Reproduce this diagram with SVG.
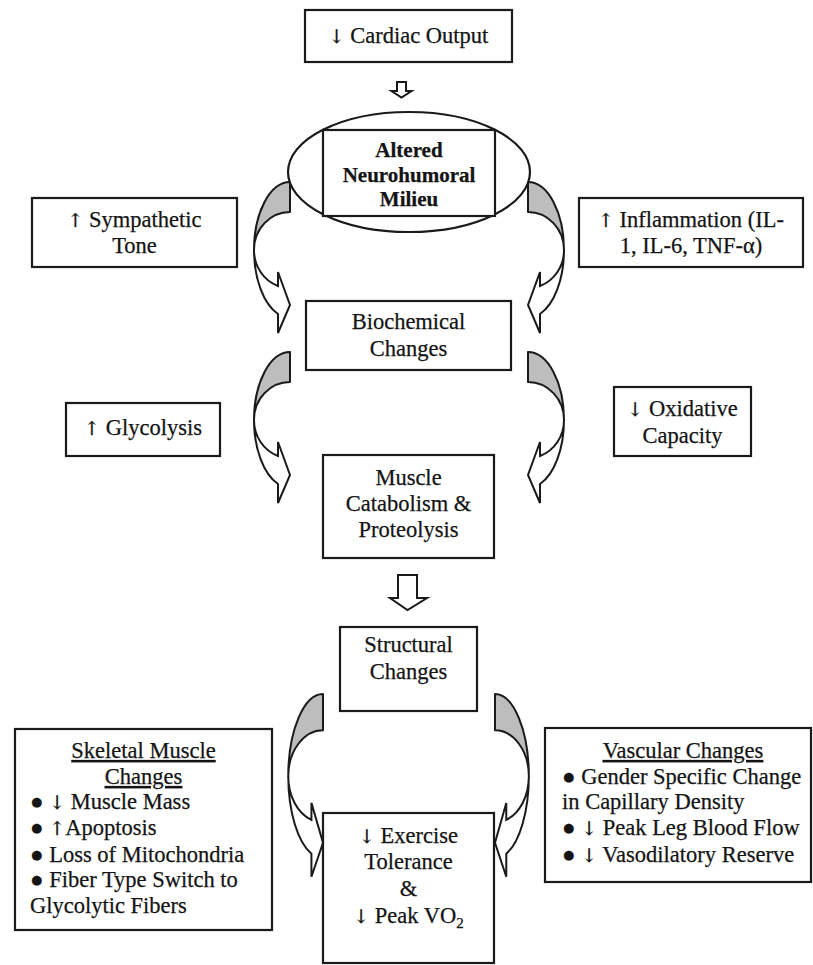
<svg xmlns="http://www.w3.org/2000/svg" xmlns:xlink="http://www.w3.org/1999/xlink" width="813" height="965" viewBox="0 0 813 965">
<style>
.box{fill:#fff;stroke:#1a1a1a;stroke-width:2.2}
.t{font-family:"Liberation Serif","Times New Roman",serif;font-size:22.5px;fill:#141414;stroke:#141414;stroke-width:0.25}
.c{text-anchor:middle}
.b{font-weight:bold;font-size:21px}
.u{text-decoration:underline}
.ar{font-family:"DejaVu Serif","Liberation Serif",serif;font-size:19px;fill:#141414}
.shade{fill:#bdbdbd;stroke:#1a1a1a;stroke-width:2;vector-effect:non-scaling-stroke;stroke-linejoin:round}
.front{fill:#fff;stroke:#1a1a1a;stroke-width:2;vector-effect:non-scaling-stroke;stroke-linejoin:miter}
.hollow{fill:#fff;stroke:#1a1a1a;stroke-width:2;stroke-linejoin:miter}
</style>
<defs>
<g id="carrow">
<path class="shade" d="M0,0 A36,68 0 0 0 -36,68 A36,38 0 0 1 0,30 Z"/>
<path class="front" d="M-36,68 A36,38 0 0 0 -12,104 L-12,90 L0,123 L-12,151 L-12,132 A36,68 0 0 1 -36,68 Z"/>
</g>
</defs>
<rect width="813" height="965" fill="#fff"/>

<g id="connectors">
<path class="hollow" d="M397,82 H406 V91 H411.5 L401.5,97.5 L391.5,91 H397 Z"/>
<path class="hollow" d="M398,575 H417 V598 H427 L407.5,610 L390,598 H398 Z"/>
<use xlink:href="#carrow" transform="translate(290,182)"/>
<use xlink:href="#carrow" transform="translate(528,182) scale(-1,1)"/>
<use xlink:href="#carrow" transform="translate(290,352)"/>
<use xlink:href="#carrow" transform="translate(528,352) scale(-1,1)"/>
<use xlink:href="#carrow" transform="translate(323,694) scale(0.965,1.21)"/>
<use xlink:href="#carrow" transform="translate(495,694) scale(-0.94,1.21)"/>
</g>

<g id="cardiac">
<rect class="box" x="305" y="10" width="207" height="52"/>
<text class="t c" x="408.5" y="43"><tspan class="ar">↓</tspan> Cardiac Output</text>
</g>

<g id="neuro">
<ellipse class="box" cx="409" cy="172" rx="121" ry="60"/>
<rect class="box" x="323" y="130" width="172" height="86"/>
<text class="t c b" x="409" y="157">Altered</text>
<text class="t c b" x="409" y="182">Neurohumoral</text>
<text class="t c b" x="409" y="206">Milieu</text>
</g>

<g id="sympathetic">
<rect class="box" x="32" y="198" width="205" height="69"/>
<text class="t c" x="134.5" y="227"><tspan class="ar">↑</tspan> Sympathetic</text>
<text class="t c" x="134.5" y="253">Tone</text>
</g>

<g id="inflammation">
<rect class="box" x="579" y="198" width="224" height="69"/>
<text class="t c" x="691" y="227"><tspan class="ar">↑</tspan> Inflammation (IL-</text>
<text class="t c" x="691" y="253">1, IL-6, TNF-α)</text>
</g>

<g id="biochemical">
<rect class="box" x="306" y="301" width="205" height="69"/>
<text class="t c" x="408.5" y="329">Biochemical</text>
<text class="t c" x="408.5" y="356">Changes</text>
</g>

<g id="glycolysis">
<rect class="box" x="66" y="403" width="154" height="53"/>
<text class="t c" x="143" y="435"><tspan class="ar">↑</tspan> Glycolysis</text>
</g>

<g id="oxidative">
<rect class="box" x="614" y="387" width="137" height="69"/>
<text class="t c" x="682.5" y="416"><tspan class="ar">↓</tspan> Oxidative</text>
<text class="t c" x="682.5" y="443">Capacity</text>
</g>

<g id="catabolism">
<rect class="box" x="323" y="455" width="171" height="103"/>
<text class="t c" x="408.5" y="485">Muscle</text>
<text class="t c" x="408.5" y="511">Catabolism &amp;</text>
<text class="t c" x="408.5" y="537">Proteolysis</text>
</g>

<g id="structural">
<rect class="box" x="340" y="627" width="137" height="84"/>
<text class="t c" x="408.5" y="652">Structural</text>
<text class="t c" x="408.5" y="679">Changes</text>
</g>

<g id="skeletal">
<rect class="box" x="15" y="729" width="257" height="201"/>
<text class="t c u" x="143.5" y="758">Skeletal Muscle</text>
<text class="t c u" x="143.5" y="784">Changes</text>
<text class="t" x="30" y="809">● <tspan class="ar">↓</tspan> Muscle Mass</text>
<text class="t" x="30" y="835">● <tspan class="ar">↑</tspan>Apoptosis</text>
<text class="t" x="30" y="862">● Loss of Mitochondria</text>
<text class="t" x="30" y="887">● Fiber Type Switch to</text>
<text class="t" x="30" y="913">Glycolytic Fibers</text>
</g>

<g id="vascular">
<rect class="box" x="545" y="728" width="266" height="154"/>
<text class="t c u" x="683" y="758">Vascular Changes</text>
<text class="t" x="562" y="784">● Gender Specific Change</text>
<text class="t" x="562" y="809">in Capillary Density</text>
<text class="t" x="562" y="835">● <tspan class="ar">↓</tspan> Peak Leg Blood Flow</text>
<text class="t" x="562" y="862">● <tspan class="ar">↓</tspan> Vasodilatory Reserve</text>
</g>

<g id="exercise">
<rect class="box" x="323" y="813" width="171" height="150"/>
<text class="t c" x="408.5" y="843"><tspan class="ar">↓</tspan> Exercise</text>
<text class="t c" x="408.5" y="869">Tolerance</text>
<text class="t c" x="408.5" y="896">&amp;</text>
<text class="t c" x="408.5" y="923"><tspan class="ar">↓</tspan> Peak VO<tspan font-size="15" dy="5">2</tspan></text>
</g>
</svg>
